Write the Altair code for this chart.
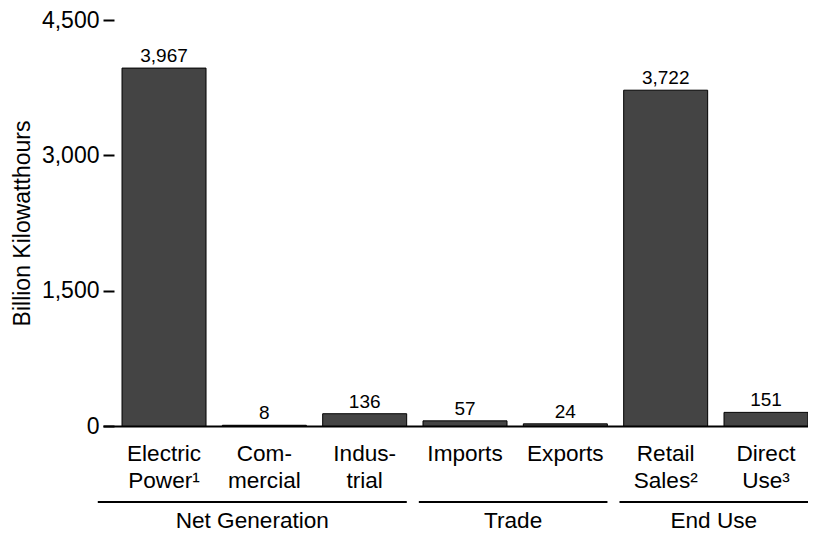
import altair as alt
import pandas as pd

categories = ["Electric\nPower¹", "Com-\nmercial", "Indus-\ntrial", "Imports", "Exports", "Retail\nSales²", "Direct\nUse³"]
values = [3967, 8, 136, 57, 24, 3722, 151]
groups = ["Net Generation", "Net Generation", "Net Generation", "Trade", "Trade", "End Use", "End Use"]
y_ticks = [0, 1500, 3000, 4500]

df = pd.DataFrame({
    "category": categories,
    "value": values,
    "group": groups,
    "idx": list(range(len(categories))),
})

FONT = "Liberation Sans"
W, H = 705, 406

xband = alt.X(
    "category:N", sort=categories, title=None,
    scale=alt.Scale(paddingInner=0.1628, paddingOuter=0.0948, align=1),
    axis=alt.Axis(labelAngle=0, labelExpr="split(datum.label, '\\n')", ticks=False, tickSize=0,
                  domain=True, domainColor="black", domainWidth=2, labelFont=FONT, labelFontSize=22.6,
                  labelColor="black", labelPadding=16, labelLineHeight=27, labelBaseline="top",
                  labelOverlap=False),
)
yq = alt.Y(
    "value:Q", title="Billion Kilowatthours",
    scale=alt.Scale(domain=[0, 4500], nice=False),
    axis=alt.Axis(values=y_ticks, format=",d", domain=False, grid=False, tickColor="black",
                  tickWidth=2, tickSize=11, offset=-11, labelFont=FONT, labelFontSize=23,
                  labelColor="black", labelPadding=4, titleFont=FONT, titleFontSize=23,
                  titleFontWeight="normal", titleColor="black", titlePadding=7),
)

base = alt.Chart(df)
bars = base.mark_bar(fill="#444444", stroke="black", strokeWidth=1).encode(x=xband, y=yq)
vals = base.mark_text(baseline="alphabetic", dy=-6, fontSize=19, font=FONT, color="black").encode(
    x=alt.X("category:N", sort=categories), y="value:Q", text=alt.Text("value:Q", format=",")
)

grp = base.transform_aggregate(lo="min(idx)", hi="max(idx)", groupby=["group"]).transform_calculate(
    start="datum.lo - (datum.lo == 0 ? 0.66 : 0.46)",
    end="datum.hi + 0.42",
).transform_calculate(mid="(datum.start + datum.end) / 2")
xs = alt.Scale(domain=[-0.608, 6.419], nice=False, zero=False)
rules = grp.mark_rule(color="black", strokeWidth=2).encode(
    x=alt.X("start:Q", scale=xs, axis=None), x2="end:Q", y=alt.value(482)
)
glabels = grp.mark_text(fontSize=22.6, font=FONT, baseline="alphabetic", color="black").encode(
    x=alt.X("mid:Q", scale=xs, axis=None), text="group:N", y=alt.value(508)
)

chart = alt.layer(
    alt.layer(bars, vals),
    alt.layer(rules, glabels),
).resolve_scale(x="independent").properties(
    width=W, height=H,
    padding={"left": 95, "top": 12, "right": 0, "bottom": 107},
    autosize=alt.AutoSizeParams(type="none"),
).configure_view(stroke=None)

chart.save("out.html", embed_options={"renderer": "svg", "actions": False})
